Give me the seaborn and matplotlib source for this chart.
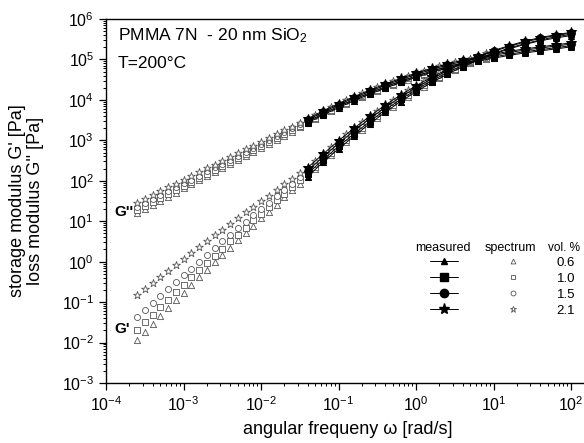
import numpy as np
import pandas as pd
import matplotlib
matplotlib.use("Agg")
import matplotlib.pyplot as plt
import seaborn as sns
from matplotlib.lines import Line2D
from matplotlib.legend_handler import HandlerTuple
from matplotlib.ticker import LogLocator, NullFormatter

# volume fractions / symbols
conc = ['0.6', '1.0', '1.5', '2.1']
symbols = ['^', 's', 'o', '*']

# measured frequencies, log10(omega [rad/s])
log_w_meas = [-1.4, -1.2, -1.0, -0.8, -0.6, -0.4, -0.2, 0.0, 0.2, 0.4,
              0.6, 0.8, 1.0, 1.2, 1.4, 1.6, 1.8, 2.0]

# measured G' (log10 Pa)
gp_meas_06 = [2.10, 2.46, 2.79, 3.10, 3.41, 3.69, 3.96, 4.20, 4.43, 4.63, 4.82, 4.98, 5.13, 5.26, 5.37, 5.46, 5.53, 5.59]
gp_meas_10 = [2.17, 2.52, 2.85, 3.16, 3.46, 3.75, 4.01, 4.25, 4.47, 4.67, 4.85, 5.01, 5.15, 5.28, 5.39, 5.48, 5.56, 5.62]
gp_meas_15 = [2.24, 2.59, 2.92, 3.23, 3.53, 3.81, 4.07, 4.30, 4.52, 4.72, 4.90, 5.06, 5.20, 5.32, 5.43, 5.52, 5.59, 5.65]
gp_meas_21 = [2.32, 2.66, 2.99, 3.30, 3.59, 3.87, 4.12, 4.35, 4.56, 4.75, 4.92, 5.08, 5.22, 5.34, 5.45, 5.54, 5.61, 5.67]

# measured G'' (log10 Pa)
gpp_meas_06 = [3.43, 3.63, 3.81, 3.98, 4.14, 4.29, 4.43, 4.56, 4.68, 4.79, 4.88, 4.96, 5.03, 5.10, 5.16, 5.21, 5.26, 5.31]
gpp_meas_10 = [3.46, 3.66, 3.84, 4.01, 4.17, 4.32, 4.46, 4.59, 4.71, 4.82, 4.91, 4.99, 5.06, 5.13, 5.19, 5.24, 5.29, 5.34]
gpp_meas_15 = [3.50, 3.70, 3.88, 4.05, 4.21, 4.36, 4.50, 4.63, 4.75, 4.86, 4.95, 5.03, 5.10, 5.17, 5.23, 5.28, 5.33, 5.38]
gpp_meas_21 = [3.53, 3.73, 3.91, 4.08, 4.24, 4.39, 4.53, 4.66, 4.78, 4.89, 4.98, 5.06, 5.13, 5.20, 5.26, 5.31, 5.36, 5.41]

# spectrum frequencies, log10(omega)
log_w_spec = [-3.6, -3.5, -3.4, -3.3, -3.2, -3.1, -3.0, -2.9, -2.8, -2.7, -2.6, -2.5,
              -2.4, -2.3, -2.2, -2.1, -2.0, -1.9, -1.8, -1.7, -1.6, -1.5, -1.4, -1.3,
              -1.2, -1.1, -1.0, -0.9, -0.8, -0.7, -0.6, -0.5, -0.4, -0.3, -0.2, -0.1,
              0.0, 0.1, 0.2, 0.3, 0.4, 0.5, 0.6, 0.7, 0.8, 0.9, 1.0]

# G' from spectrum (log10 Pa)
gp_spec_06 = [-1.94, -1.74, -1.54, -1.35, -1.15, -0.96, -0.77, -0.58, -0.39, -0.20, -0.01, 0.17,
              0.35, 0.53, 0.71, 0.89, 1.07, 1.24, 1.41, 1.59, 1.76, 1.93, 2.10, 2.28,
              2.46, 2.63, 2.79, 2.95, 3.10, 3.26, 3.41, 3.55, 3.69, 3.83, 3.96, 4.08,
              4.20, 4.32, 4.43, 4.53, 4.63, 4.73, 4.82, 4.90, 4.98, 5.06, 5.13]
gp_spec_10 = [-1.69, -1.50, -1.31, -1.12, -0.94, -0.75, -0.57, -0.39, -0.21, -0.03, 0.15, 0.32,
              0.50, 0.67, 0.84, 1.02, 1.18, 1.35, 1.52, 1.68, 1.85, 2.01, 2.17, 2.35,
              2.52, 2.69, 2.85, 3.01, 3.16, 3.31, 3.46, 3.61, 3.75, 3.88, 4.01, 4.13,
              4.25, 4.36, 4.47, 4.57, 4.67, 4.76, 4.85, 4.93, 5.01, 5.08, 5.15]
gp_spec_15 = [-1.37, -1.20, -1.02, -0.85, -0.68, -0.50, -0.34, -0.17, 0.00, 0.17, 0.34, 0.50,
              0.66, 0.83, 0.99, 1.15, 1.31, 1.46, 1.62, 1.78, 1.93, 2.09, 2.24, 2.42,
              2.59, 2.76, 2.92, 3.08, 3.23, 3.38, 3.53, 3.67, 3.81, 3.94, 4.07, 4.19,
              4.30, 4.41, 4.52, 4.62, 4.72, 4.81, 4.90, 4.98, 5.06, 5.13, 5.20]
gp_spec_21 = [-0.82, -0.67, -0.52, -0.37, -0.22, -0.08, 0.07, 0.22, 0.36, 0.50, 0.65, 0.79,
              0.93, 1.07, 1.22, 1.36, 1.49, 1.63, 1.77, 1.91, 2.04, 2.18, 2.32, 2.49,
              2.66, 2.83, 2.99, 3.15, 3.30, 3.45, 3.59, 3.73, 3.87, 4.00, 4.12, 4.24,
              4.35, 4.46, 4.56, 4.66, 4.75, 4.84, 4.92, 5.00, 5.08, 5.15, 5.22]

# G'' from spectrum (log10 Pa)
gpp_spec_06 = [1.21, 1.31, 1.41, 1.51, 1.61, 1.71, 1.81, 1.91, 2.01, 2.11, 2.21, 2.31,
               2.41, 2.51, 2.61, 2.71, 2.81, 2.91, 3.01, 3.11, 3.21, 3.32, 3.43, 3.53,
               3.63, 3.72, 3.81, 3.90, 3.98, 4.06, 4.14, 4.22, 4.29, 4.36, 4.43, 4.50,
               4.56, 4.62, 4.68, 4.74, 4.79, 4.84, 4.88, 4.92, 4.96, 5.00, 5.03]
gpp_spec_10 = [1.27, 1.37, 1.47, 1.57, 1.67, 1.77, 1.87, 1.97, 2.07, 2.17, 2.27, 2.37,
               2.47, 2.56, 2.66, 2.76, 2.86, 2.96, 3.06, 3.16, 3.26, 3.36, 3.46, 3.56,
               3.66, 3.75, 3.84, 3.93, 4.01, 4.09, 4.17, 4.25, 4.32, 4.39, 4.46, 4.53,
               4.59, 4.65, 4.71, 4.77, 4.82, 4.87, 4.91, 4.95, 4.99, 5.03, 5.06]
gpp_spec_15 = [1.35, 1.45, 1.55, 1.64, 1.74, 1.84, 1.94, 2.03, 2.13, 2.23, 2.33, 2.42,
               2.52, 2.62, 2.72, 2.81, 2.91, 3.01, 3.11, 3.20, 3.30, 3.40, 3.50, 3.60,
               3.70, 3.79, 3.88, 3.97, 4.05, 4.13, 4.21, 4.29, 4.36, 4.43, 4.50, 4.57,
               4.63, 4.69, 4.75, 4.81, 4.86, 4.91, 4.95, 4.99, 5.03, 5.07, 5.10]
gpp_spec_21 = [1.46, 1.55, 1.65, 1.74, 1.84, 1.93, 2.02, 2.12, 2.21, 2.31, 2.40, 2.49,
               2.59, 2.68, 2.78, 2.87, 2.96, 3.06, 3.15, 3.25, 3.34, 3.43, 3.53, 3.63,
               3.73, 3.82, 3.91, 4.00, 4.08, 4.16, 4.24, 4.32, 4.39, 4.46, 4.53, 4.60,
               4.66, 4.72, 4.78, 4.84, 4.89, 4.94, 4.98, 5.02, 5.06, 5.10, 5.13]

gp_meas = [gp_meas_06, gp_meas_10, gp_meas_15, gp_meas_21]
gpp_meas = [gpp_meas_06, gpp_meas_10, gpp_meas_15, gpp_meas_21]
gp_spec = [gp_spec_06, gp_spec_10, gp_spec_15, gp_spec_21]
gpp_spec = [gpp_spec_06, gpp_spec_10, gpp_spec_15, gpp_spec_21]

sns.set_style("ticks")
plt.rcParams['font.family'] = ['Liberation Sans', 'DejaVu Sans']
plt.rcParams['mathtext.fontset'] = 'custom'
plt.rcParams['mathtext.rm'] = 'Liberation Sans'
plt.rcParams['mathtext.it'] = 'Liberation Sans:italic'
plt.rcParams['mathtext.bf'] = 'Liberation Sans:bold'
plt.rcParams['text.color'] = 'black'
plt.rcParams['axes.labelcolor'] = 'black'
plt.rcParams['xtick.color'] = 'black'
plt.rcParams['ytick.color'] = 'black'

fig = plt.figure(figsize=(5.84, 4.43), dpi=100)
W, H = 584, 443
ax = fig.add_axes([106 / W, 1 - 383 / H, (590 - 106) / W, 364 / H])

meas_ms = [4.5, 5, 5.5, 7.5]
spec_s = [20, 15, 19, 34]
spec_edge = '#555555'

w_spec = 10 ** np.array(log_w_spec)
w_meas = 10 ** np.array(log_w_meas)

for i in range(4):
    for arr in (gp_spec[i], gpp_spec[i]):
        sns.scatterplot(x=w_spec, y=10 ** np.array(arr), marker=symbols[i], s=spec_s[i],
                        color='white', edgecolor=spec_edge, linewidth=0.6, ax=ax,
                        zorder=2, legend=False)

for i in range(4):
    for arr in (gp_meas[i], gpp_meas[i]):
        df = pd.DataFrame({'w': w_meas, 'G': 10 ** np.array(arr)})
        sns.lineplot(data=df, x='w', y='G', marker=symbols[i], markersize=meas_ms[i],
                     color='black', markeredgecolor='black', linewidth=0.7,
                     estimator=None, sort=False, ax=ax, zorder=3)

ax.set_xscale('log')
ax.set_yscale('log')
ax.set_xlim(1e-4, 10 ** (2 + 19 / 77.5))
ax.set_ylim(1e-3, 1e6)

ax.xaxis.set_major_locator(LogLocator(base=10, numticks=20))
ax.yaxis.set_major_locator(LogLocator(base=10, numticks=20))
ax.xaxis.set_minor_locator(LogLocator(base=10, subs=np.arange(2, 10), numticks=100))
ax.yaxis.set_minor_locator(LogLocator(base=10, subs=np.arange(2, 10), numticks=100))
ax.xaxis.set_minor_formatter(NullFormatter())
ax.yaxis.set_minor_formatter(NullFormatter())
ax.tick_params(which='major', direction='out', length=5, width=0.9, labelsize=11.5,
               color='black', labelcolor='black')
ax.tick_params(which='minor', direction='out', length=2.5, width=0.7, color='black')
for sp in ax.spines.values():
    sp.set_color('black')
    sp.set_linewidth(1.0)

ax.set_xlabel('angular frequeny ω [rad/s]', fontsize=13, color='black')
ax.set_ylabel("storage modulus G' [Pa]\nloss modulus G'' [Pa]", fontsize=13, linespacing=1.1,
              color='black')
ax.xaxis.set_label_coords(0.5, -0.105)
ax.yaxis.set_label_coords(-0.128, 0.5)

ax.text(0.025, 0.953, 'PMMA 7N  - 20 nm SiO$_2$', transform=ax.transAxes,
        fontsize=12.5, va='center', ha='left')
ax.text(0.025, 0.879, 'T=200°C', transform=ax.transAxes, fontsize=12.5, va='center', ha='left')
ax.text(0.037, 0.470, "G''", transform=ax.transAxes, fontsize=11, fontweight='bold',
        va='center', ha='center')
ax.text(0.033, 0.148, "G'", transform=ax.transAxes, fontsize=11, fontweight='bold',
        va='center', ha='center')

# legend table
ax.text(0.696, 0.371, 'measured', transform=ax.transAxes, fontsize=9, ha='center', va='center')
ax.text(0.835, 0.371, 'spectrum', transform=ax.transAxes, fontsize=9, ha='center', va='center')
ax.text(0.914, 0.371, 'vol. %', transform=ax.transAxes, fontsize=8.5, ha='left', va='center')

handles = []
for i in range(4):
    h_m = Line2D([], [], color='black', lw=0.7, marker=symbols[i], ms=meas_ms[i] + 0.5,
                 mfc='black', mec='black')
    h_s = Line2D([], [], ls='none', marker=symbols[i], ms=3.5 if symbols[i] != '*' else 4.5,
                 mfc='white', mec=spec_edge, mew=0.6)
    handles.append((h_m, h_s))
fs = 9.5
ax.legend(handles=handles, labels=conc, handler_map={tuple: HandlerTuple(ndivide=None, pad=3.1)},
          loc='upper left', bbox_to_anchor=(0.669, 0.347), frameon=False, fontsize=fs,
          handlelength=7.4, handletextpad=2.2, borderpad=0, borderaxespad=0,
          labelspacing=0.28, numpoints=1)

fig.savefig('out.png', dpi=100)
